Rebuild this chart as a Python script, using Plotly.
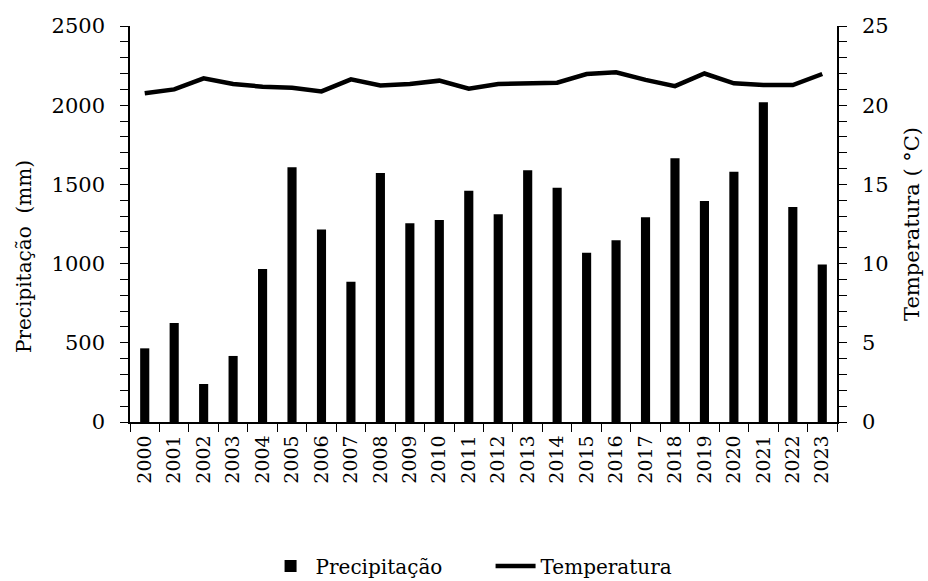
import plotly.graph_objects as go

years = [str(y) for y in range(2000, 2024)]
precipitacao = [465, 625, 240, 417, 966, 1608, 1216, 885, 1572, 1254, 1275, 1460,
                1311, 1589, 1479, 1069, 1147, 1292, 1665, 1395, 1580, 2018, 1357, 995]
temperatura = [20.75, 21.0, 21.7, 21.34, 21.17, 21.1, 20.87, 21.63, 21.25, 21.34, 21.55, 21.04,
               21.34, 21.38, 21.42, 21.97, 22.08, 21.6, 21.2, 22.0, 21.38, 21.27, 21.27, 21.97]

FONT = "DejaVu Serif"

fig = go.Figure()
fig.add_trace(go.Bar(x=years, y=precipitacao, name="Precipitação",
                     marker=dict(color="black", line=dict(width=0)), yaxis="y"))
fig.add_trace(go.Scatter(x=years, y=temperatura, name="Temperatura", mode="lines",
                         line=dict(color="black", width=4.5), yaxis="y2"))

fig.update_layout(
    width=928, height=581,
    margin=dict(l=130, r=91, t=26, b=159),
    paper_bgcolor="white", plot_bgcolor="white",
    font=dict(family=FONT, size=18, color="black"),
    bargap=0.69,
    showlegend=True,
    legend=dict(orientation="h", x=0.51, xanchor="center", yref="container", y=0.026,
                yanchor="middle", entrywidth=170, entrywidthmode="pixels",
                font=dict(family=FONT, size=20, color="black"), itemwidth=40,
                traceorder="normal"),
    xaxis=dict(type="category", showline=True, linecolor="black", linewidth=1.5,
               ticks="outside", ticklen=8, tickcolor="black", tickson="boundaries",
               tickangle=-90, showgrid=False, zeroline=False, ticklabelstandoff=4,
               tickfont=dict(family=FONT, size=19, color="black")),
    yaxis=dict(range=[0, 2500], dtick=500, showline=True, linecolor="black", linewidth=1.5,
               ticks="outside", ticklen=8, tickcolor="black", showgrid=False, zeroline=False,
               ticklabelstandoff=11,
               minor=dict(dtick=100, ticks="outside", ticklen=8, tickcolor="black", showgrid=False),
               tickfont=dict(family=FONT, size=21, color="black")),
    yaxis2=dict(range=[0, 25], dtick=5, overlaying="y", side="right", showline=True,
                linecolor="black", linewidth=1.5, ticks="outside", ticklen=8, tickcolor="black",
                showgrid=False, zeroline=False, ticklabelstandoff=11,
                minor=dict(dtick=1, ticks="outside", ticklen=8, tickcolor="black", showgrid=False),
                tickfont=dict(family=FONT, size=21, color="black")),
    annotations=[
        dict(text="Precipitação  (mm)", textangle=-90, xref="paper", yref="paper",
             x=-0.15, y=0.419, xanchor="center", yanchor="middle", showarrow=False,
             font=dict(family=FONT, size=20, color="black")),
        dict(text="Temperatura ( °C)", textangle=-90, xref="paper", yref="paper",
             x=1.106, y=0.5, xanchor="center", yanchor="middle", showarrow=False,
             font=dict(family=FONT, size=21, color="black")),
    ],
)

fig.write_html("out.html")
